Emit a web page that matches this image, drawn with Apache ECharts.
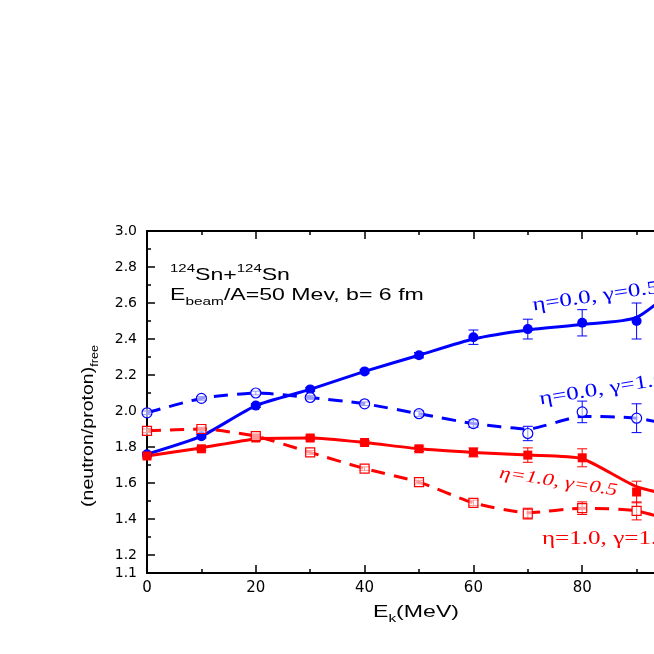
<!DOCTYPE html>
<html>
<head>
<meta charset="utf-8">
<script src="https://cdn.jsdelivr.net/npm/echarts@6/dist/echarts.min.js"></script>
<style>html,body{margin:0;padding:0;background:#fff}#c{width:654px;height:654px}</style>
</head>
<body>
<div id="c"></div>
<script>
// ---- data ----
var energies = [0, 10, 20, 30, 40, 50, 60, 70, 80, 90];
var fitEnergies = [0, 10, 20, 30, 40, 50, 60, 70, 80, 90, 100];

// eta=0.0, gamma=0.5 (blue, filled circles, solid fit)
var blueSolidVals = [1.76, 1.86, 2.03, 2.12, 2.22, 2.31, 2.41, 2.455, 2.49, 2.50];
var blueSolidErr  = [0.01, 0.01, 0.01, 0.01, 0.01, 0.015, 0.04, 0.055, 0.073, 0.10];
var blueSolidFit  = [1.76, 1.86, 2.03, 2.12, 2.22, 2.31, 2.40, 2.45, 2.48, 2.52, 2.76];

// eta=0.0, gamma=1.0 (blue, open circles, dashed fit)
var blueDashVals = [1.99, 2.07, 2.10, 2.075, 2.04, 1.985, 1.93, 1.875, 1.995, 1.96];
var blueDashErr  = [0.01, 0.01, 0.01, 0.01, 0.01, 0.015, 0.02, 0.04, 0.06, 0.08];
var blueDashFit  = [1.99, 2.07, 2.10, 2.075, 2.04, 1.985, 1.93, 1.90, 1.97, 1.96, 1.90];

// eta=1.0, gamma=0.5 (red, filled squares, solid fit)
var redSolidVals = [1.75, 1.79, 1.85, 1.85, 1.825, 1.79, 1.77, 1.755, 1.74, 1.55];
var redSolidErr  = [0.01, 0.01, 0.01, 0.01, 0.01, 0.015, 0.025, 0.04, 0.05, 0.06];
var redSolidFit  = [1.75, 1.795, 1.845, 1.85, 1.825, 1.79, 1.77, 1.755, 1.735, 1.58, 1.51];

// eta=1.0, gamma=1.0 (red, open squares, dashed fit)
var redDashVals = [1.89, 1.90, 1.86, 1.77, 1.68, 1.605, 1.49, 1.43, 1.46, 1.445];
var redDashErr  = [0.01, 0.01, 0.01, 0.01, 0.01, 0.01, 0.015, 0.03, 0.035, 0.05];
var redDashFit  = [1.89, 1.90, 1.86, 1.77, 1.68, 1.605, 1.49, 1.435, 1.46, 1.445, 1.36];

var yLabelValues = [1.1, 1.2, 1.4, 1.6, 1.8, 2.0, 2.2, 2.4, 2.6, 2.8, 3.0];
var yMajorTicks = [1.2, 1.4, 1.6, 1.8, 2.0, 2.2, 2.4, 2.6, 2.8, 3.0];
var yMinorTicks = [1.3, 1.5, 1.7, 1.9, 2.1, 2.3, 2.5, 2.7, 2.9];

var BLUE = '#0000ff', RED = '#ff0000';

function pts(xs, ys) { return xs.map(function (x, i) { return [x, ys[i]]; }); }
function errPts(xs, ys, es) { return xs.map(function (x, i) { return [x, ys[i], es[i]]; }); }

function errSeries(xs, ys, es, color) {
  return {
    type: 'custom', z: 4, silent: true,
    data: errPts(xs, ys, es),
    encode: { x: 0, y: 1 },
    renderItem: function (params, api) {
      var x = api.value(0), y = api.value(1), e = api.value(2);
      var top = api.coord([x, y + e]), bot = api.coord([x, y - e]);
      var w = 5, st = { stroke: color, lineWidth: 1 };
      return {
        type: 'group', children: [
          { type: 'line', shape: { x1: top[0], y1: top[1], x2: bot[0], y2: bot[1] }, style: st },
          { type: 'line', shape: { x1: top[0] - w, y1: top[1], x2: top[0] + w, y2: top[1] }, style: st },
          { type: 'line', shape: { x1: bot[0] - w, y1: bot[1], x2: bot[0] + w, y2: bot[1] }, style: st }
        ]
      };
    }
  };
}
function fitSeries(ys, color, dashed) {
  return {
    type: 'line', z: 3, smooth: 0.2, showSymbol: false, silent: true,
    data: pts(fitEnergies, ys),
    lineStyle: { color: color, width: 3, type: dashed ? [14, 9] : 'solid' }
  };
}
function markSeries(ys, color, symbol, open) {
  return {
    type: 'scatter', z: 5, silent: true, symbol: symbol,
    symbolSize: symbol === 'rect' ? 9 : 10,
    data: pts(energies, ys),
    itemStyle: open ? { color: 'rgba(255,255,255,0.6)', borderColor: color, borderWidth: 1.2, opacity: 1 } : { color: color, opacity: 1 }
  };
}

var chart = echarts.init(document.getElementById('c'), null, { renderer: 'canvas' });
var axisFont = 'DejaVu Sans';
chart.setOption({
  animation: false,
  backgroundColor: '#fff',
  grid: { left: 147, right: -37, top: 231, bottom: 81, outerBoundsMode: 'none', containLabel: false },
  xAxis: [{
    type: 'value', min: 0, max: 100, interval: 20, position: 'bottom',
    axisLine: { lineStyle: { color: '#000', width: 2 } },
    axisTick: { inside: true, length: 8, lineStyle: { color: '#000', width: 1.5 } },
    minorTick: { show: true, splitNumber: 2, length: 4, lineStyle: { color: '#000', width: 1.5 } },
    axisLabel: { color: '#000', fontFamily: axisFont, fontSize: 15, margin: 8 },
    splitLine: { show: false }
  }, {
    type: 'value', min: 0, max: 100, interval: 20, position: 'top',
    axisLine: { lineStyle: { color: '#000', width: 2 } },
    axisTick: { inside: true, length: 8, lineStyle: { color: '#000', width: 1.5 } },
    minorTick: { show: true, splitNumber: 2, length: 4, lineStyle: { color: '#000', width: 1.5 } },
    axisLabel: { show: false },
    splitLine: { show: false }
  }],
  yAxis: [{
    type: 'value', min: 1.1, max: 3.0, position: 'left',
    axisLine: { lineStyle: { color: '#000', width: 2 } },
    axisTick: { inside: true, length: 8, customValues: yMajorTicks, lineStyle: { color: '#000', width: 1.5 } },
    axisLabel: {
      color: '#000', fontFamily: axisFont, fontSize: 14, margin: 10,
      customValues: yLabelValues,
      formatter: function (v) { return v.toFixed(1); }
    },
    splitLine: { show: false }
  }, {
    type: 'value', min: 1.1, max: 3.0, position: 'left',
    axisLine: { show: false },
    axisTick: { inside: true, length: 4, customValues: yMinorTicks, lineStyle: { color: '#000', width: 1.5 } },
    axisLabel: { show: false },
    splitLine: { show: false }
  }],
  series: [
    fitSeries(blueSolidFit, BLUE, false),
    fitSeries(blueDashFit, BLUE, true),
    fitSeries(redSolidFit, RED, false),
    fitSeries(redDashFit, RED, true),
    errSeries(energies, blueSolidVals, blueSolidErr, BLUE),
    errSeries(energies, blueDashVals, blueDashErr, BLUE),
    errSeries(energies, redSolidVals, redSolidErr, RED),
    errSeries(energies, redDashVals, redDashErr, RED),
    markSeries(blueSolidVals, BLUE, 'circle', false),
    markSeries(blueDashVals, BLUE, 'circle', true),
    markSeries(redSolidVals, RED, 'rect', false),
    markSeries(redDashVals, RED, 'rect', true)
  ],
  graphic: [
    { type: 'text', x: 88, y: 426, rotation: Math.PI / 2, scaleX: 1.15, z: 10,
      style: { text: '{m|(neutron/proton)}{s|free}', align: 'center', verticalAlign: 'middle', fill: '#000',
        rich: { m: { fontFamily: 'Liberation Sans', fontSize: 17, lineHeight: 24, fill: '#000' },
                s: { fontFamily: 'Liberation Sans', fontSize: 11, lineHeight: 12, verticalAlign: 'bottom', fill: '#000' } } } },
    { type: 'text', x: 416, y: 612, scaleX: 1.4, z: 10,
      style: { text: '{m|E}{s|k}{m|(MeV)}', align: 'center', verticalAlign: 'middle', fill: '#000',
        rich: { m: { fontFamily: 'Liberation Sans', fontSize: 16.5, lineHeight: 24, fill: '#000' },
                s: { fontFamily: 'Liberation Sans', fontSize: 11, lineHeight: 12, verticalAlign: 'bottom', fill: '#000' } } } },
    { type: 'text', x: 170, y: 275, scaleX: 1.36, z: 10,
      style: { text: '{s|124}{m|Sn+}{s|124}{m|Sn}', align: 'left', verticalAlign: 'middle', fill: '#000',
        rich: { m: { fontFamily: 'Liberation Sans', fontSize: 17, lineHeight: 24, fill: '#000' },
                s: { fontFamily: 'Liberation Sans', fontSize: 11, lineHeight: 12, verticalAlign: 'top', fill: '#000' } } } },
    { type: 'text', x: 170, y: 295, scaleX: 1.4, z: 10,
      style: { text: '{m|E}{s|beam}{m|/A=50 Mev, b= 6 fm}', align: 'left', verticalAlign: 'middle', fill: '#000',
        rich: { m: { fontFamily: 'Liberation Sans', fontSize: 16.5, lineHeight: 24, fill: '#000' },
                s: { fontFamily: 'Liberation Sans', fontSize: 11, lineHeight: 12, verticalAlign: 'bottom', fill: '#000' } } } },
    { type: 'text', x: 534, y: 315, rotation: 0.14, scaleX: 1.32, z: 10,
      style: { text: 'η=0.0, γ=0.5', align: 'left', verticalAlign: 'bottom', fill: BLUE,
        font: '19px "Liberation Serif"' } },
    { type: 'text', x: 541, y: 409, rotation: 0.16, scaleX: 1.32, z: 10,
      style: { text: 'η=0.0, γ=1.0', align: 'left', verticalAlign: 'bottom', fill: BLUE,
        font: '19px "Liberation Serif"' } },
    { type: 'text', x: 498, y: 482, rotation: -0.15, scaleX: 1.3, z: 10,
      style: { text: 'η=1.0, γ=0.5', align: 'left', verticalAlign: 'bottom', fill: RED,
        font: 'italic 17.5px "Liberation Serif"' } },
    { type: 'text', x: 542, y: 549, scaleX: 1.32, z: 10,
      style: { text: 'η=1.0, γ=1.0', align: 'left', verticalAlign: 'bottom', fill: RED,
        font: '19px "Liberation Serif"' } }
  ]
});
</script>
</body>
</html>
